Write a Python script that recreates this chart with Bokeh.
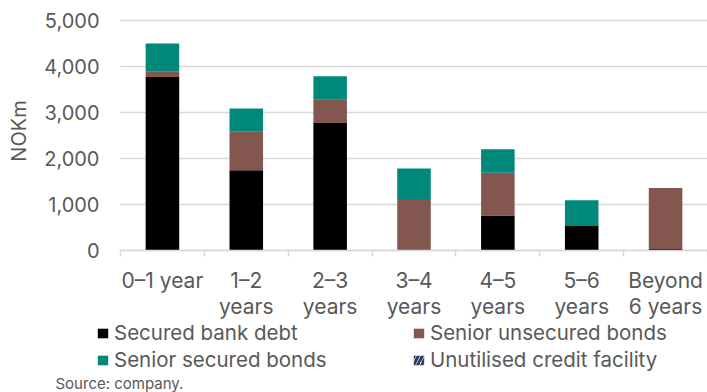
from bokeh.plotting import figure
from bokeh.models import (FixedTicker, Legend, LegendItem, Label, Range1d,
                          NumeralTickFormatter, ColumnDataSource)
from bokeh.transform import stack
from bokeh.embed import file_html
from bokeh.resources import INLINE

categories = ["0–1 year", "1–2\nyears", "2–3\nyears", "3–4\nyears",
              "4–5\nyears", "5–6\nyears", "Beyond\n6 years"]
secured_bank_debt = [3770, 1745, 2770, 0, 760, 530, 35]
senior_unsecured_bonds = [115, 850, 505, 1100, 930, 0, 1325]
senior_secured_bonds = [615, 490, 515, 680, 510, 560, 0]
unutilised_credit_facility = [0, 0, 0, 0, 0, 0, 0]
y_ticks = [0, 1000, 2000, 3000, 4000, 5000]
series_names = ["Secured bank debt", "Senior unsecured bonds",
                "Senior secured bonds", "Unutilised credit facility"]

FONT = "Inter"
GRAY = "#595959"
GRID = "#d9d9d9"
C_SBD = "#000000"
C_SUB = "#835750"
C_SSB = "#00897b"
C_UCF = "#2b3d5c"

# layout (pixels)
WIDTH, HEIGHT = 707, 392
FRAME_TOP = 8
PLOT_LEFT, PLOT_TOP, PLOT_BOTTOM = 120, 20, 250
n = len(categories)
ymax = y_ticks[-1]
px_x = (WIDTH - PLOT_LEFT) / n
px_y = (PLOT_BOTTOM - PLOT_TOP) / ymax
x_start = -PLOT_LEFT / px_x
y_start = -(HEIGHT - PLOT_BOTTOM) / px_y
y_end = ymax + (PLOT_TOP - FRAME_TOP) / px_y

centers = [i + 0.5 for i in range(n)]
bounds = [i for i in range(n + 1)]

src = ColumnDataSource(dict(
    x=centers,
    sbd=secured_bank_debt,
    sub=senior_unsecured_bonds,
    ssb=senior_secured_bonds,
    ucf=unutilised_credit_facility,
))

p = figure(width=WIDTH, height=HEIGHT, output_backend="svg",
           toolbar_location=None,
           x_range=Range1d(x_start, n), y_range=Range1d(y_start, y_end),
           min_border_left=0, min_border_right=0, min_border_top=FRAME_TOP,
           min_border_bottom=0)
p.outline_line_color = None
p.background_fill_color = "white"
p.xgrid.visible = False
p.ygrid.visible = False

# horizontal gridlines over the plotting area only
p.segment(x0=[0] * len(y_ticks), x1=[n] * len(y_ticks), y0=y_ticks,
          y1=y_ticks, line_color=GRID, line_width=1.5, level="underlay")

W = 0.4
r1 = p.vbar(x="x", width=W, bottom=0, top=stack("sbd"), source=src,
            fill_color=C_SBD, line_color=None)
r2 = p.vbar(x="x", width=W, bottom=stack("sbd"), top=stack("sbd", "sub"),
            source=src, fill_color=C_SUB, line_color=None)
r3 = p.vbar(x="x", width=W, bottom=stack("sbd", "sub"),
            top=stack("sbd", "sub", "ssb"), source=src,
            fill_color=C_SSB, line_color=None)
r4 = p.vbar(x="x", width=W, bottom=stack("sbd", "sub", "ssb"),
            top=stack("sbd", "sub", "ssb", "ucf"), source=src,
            fill_color="white", line_color=None, hatch_pattern="/",
            hatch_color=C_UCF, hatch_weight=3, hatch_scale=8)

# x axis
xa = p.xaxis[0]
xa.fixed_location = 0
xa.bounds = (0, n)
xa.ticker = FixedTicker(ticks=centers, minor_ticks=bounds)
xa.major_label_overrides = {c: lab for c, lab in zip(centers, categories)}
xa.major_tick_line_color = None
xa.major_tick_out = 0
xa.major_tick_in = 0
xa.minor_tick_out = 6
xa.minor_tick_in = 0
xa.minor_tick_line_color = GRID
xa.minor_tick_line_width = 1.5
xa.axis_line_color = GRID
xa.axis_line_width = 1.5
xa.major_label_text_font = FONT
xa.major_label_text_font_size = "21px"
xa.major_label_text_color = GRAY
xa.major_label_text_line_height = 1.05
xa.major_label_standoff = 11

# y axis
ya = p.yaxis[0]
ya.fixed_location = 0
ya.bounds = (0, 5200)
ya.ticker = FixedTicker(ticks=y_ticks)
ya.formatter = NumeralTickFormatter(format="0,0")
ya.axis_line_color = None
ya.major_tick_line_color = None
ya.minor_tick_line_color = None
ya.major_tick_out = 0
ya.major_tick_in = 0
ya.major_label_standoff = 21
ya.major_label_text_font = FONT
ya.major_label_text_font_size = "20px"
ya.major_label_text_color = GRAY
ya.axis_label = "NOKm"
ya.axis_label_text_font = FONT
ya.axis_label_text_font_size = "20px"
ya.axis_label_text_font_style = "normal"
ya.axis_label_text_color = GRAY
ya.axis_label_standoff = 10

legend = Legend(items=[
    LegendItem(label=series_names[0], renderers=[r1]),
    LegendItem(label=series_names[1], renderers=[r2]),
    LegendItem(label=series_names[2], renderers=[r3]),
    LegendItem(label=series_names[3], renderers=[r4]),
], ncols=2, location=(96, 20), orientation="horizontal")
legend.padding = 0
legend.margin = 0
legend.spacing = 2
legend.border_line_color = None
legend.background_fill_alpha = 0
legend.glyph_width = 13
legend.glyph_height = 12
legend.label_standoff = 5
legend.label_height = 23
legend.label_width = 296
legend.label_text_font = FONT
legend.label_text_font_size = "20.5px"
legend.label_text_color = GRAY
p.add_layout(legend, "center")

src_label = Label(x=55, y=9, x_units="screen", y_units="screen",
                  text="Source: company.", text_font=FONT,
                  text_font_size="15px", text_color=GRAY,
                  text_baseline="alphabetic")
p.add_layout(src_label)

open("out.html", "w").write(file_html(p, INLINE))
